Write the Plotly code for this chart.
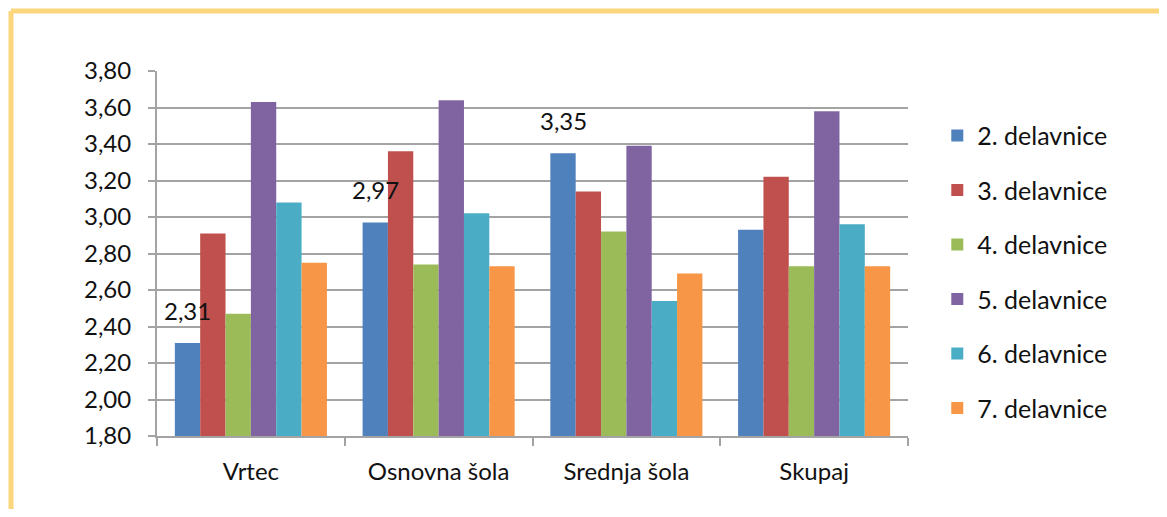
import plotly.graph_objects as go

# ── Data ────────────────────────────────────────────────────────────────────
categories = ["Vrtec", "Osnovna šola", "Srednja šola", "Skupaj"]
series_names = ["2. delavnice", "3. delavnice", "4. delavnice",
                "5. delavnice", "6. delavnice", "7. delavnice"]

d2 = [2.31, 2.97, 3.35, 2.93]
d3 = [2.91, 3.36, 3.14, 3.22]
d4 = [2.47, 2.74, 2.92, 2.73]
d5 = [3.63, 3.64, 3.39, 3.58]
d6 = [3.08, 3.02, 2.54, 2.96]
d7 = [2.75, 2.73, 2.69, 2.73]

# which bars of the first series carry a value label
d2_labelled = [True, True, True, False]

y_ticks = [1.8, 2.0, 2.2, 2.4, 2.6, 2.8, 3.0, 3.2, 3.4, 3.6, 3.8]

# ── Style ───────────────────────────────────────────────────────────────────
COLORS = ["#4F81BD", "#C0504D", "#9BBB59", "#8064A2", "#4BACC6", "#F79646"]
INK = "#111111"
GRID = "#a3a3a3"
FRAME = "#FBD67C"
FONT = "Lato, 'Open Sans', sans-serif"
FS = 24

# page body has an 8px margin, so the figure is 16px smaller than the window
W, H = 1151, 501
L, R, T, B = 149, 251, 63, 73
BARGAP = 0.19


def comma(v):
    return f"{v:.2f}".replace(".", ",")


fig = go.Figure()
for name, vals, color in zip(series_names, [d2, d3, d4, d5, d6, d7], COLORS):
    fig.add_trace(go.Bar(
        x=categories, y=vals, name=name, legendgroup=name,
        marker=dict(color=color, line=dict(width=0)),
    ))

# value labels above the first series' bars
pw, ph = W - L - R, H - T - B
cat_w = pw / len(categories)
bar_w = cat_w * (1 - BARGAP) / len(series_names)
first_bar_shift = -cat_w * (1 - BARGAP) / 2 + bar_w / 2
for cat, v, show in zip(categories, d2, d2_labelled):
    if show:
        fig.add_annotation(
            x=cat, y=v, text=comma(v), showarrow=False,
            xanchor="center", yanchor="bottom",
            xshift=first_bar_shift, yshift=16,
            font=dict(size=FS, color=INK, family=FONT),
        )

# yellow frame (top and left edges only visible)
fx = (3 - L) / pw
fy = (H - B - 3) / ph
fig.add_shape(type="line", xref="paper", yref="paper",
              x0=fx, x1=2.0, y0=fy, y1=fy, line=dict(color=FRAME, width=5))
fig.add_shape(type="line", xref="paper", yref="paper",
              x0=fx, x1=fx, y0=-1.0, y1=fy, line=dict(color=FRAME, width=5))

fig.update_layout(
    width=W, height=H,
    margin=dict(l=L, r=R, t=T, b=B, pad=0),
    paper_bgcolor="white", plot_bgcolor="white",
    font=dict(family=FONT, size=FS, color=INK),
    separators=", ",
    barmode="group", bargap=BARGAP, bargroupgap=0,
    showlegend=True,
    legend=dict(
        x=1.039, xanchor="left", y=0.45, yanchor="middle",
        font=dict(size=25, color=INK), tracegroupgap=19,
        itemclick=False, bgcolor="rgba(0,0,0,0)",
    ),
    xaxis=dict(
        showgrid=False, showline=True, linecolor=GRID, linewidth=2,
        ticks="outside", tickson="boundaries", ticklen=8, tickcolor=GRID,
        tickwidth=2, ticklabelstandoff=13, tickfont=dict(size=FS, color=INK),
    ),
    yaxis=dict(
        range=[1.8, 3.8], tickvals=y_ticks, tickformat=".2f",
        showgrid=True, gridcolor=GRID, gridwidth=2, zeroline=False,
        showline=True, linecolor=GRID, linewidth=2,
        ticks="outside", ticklen=7, tickcolor=GRID, tickwidth=2,
        ticklabelstandoff=12, tickfont=dict(size=FS, color=INK),
    ),
)

fig.write_html("out.html")
